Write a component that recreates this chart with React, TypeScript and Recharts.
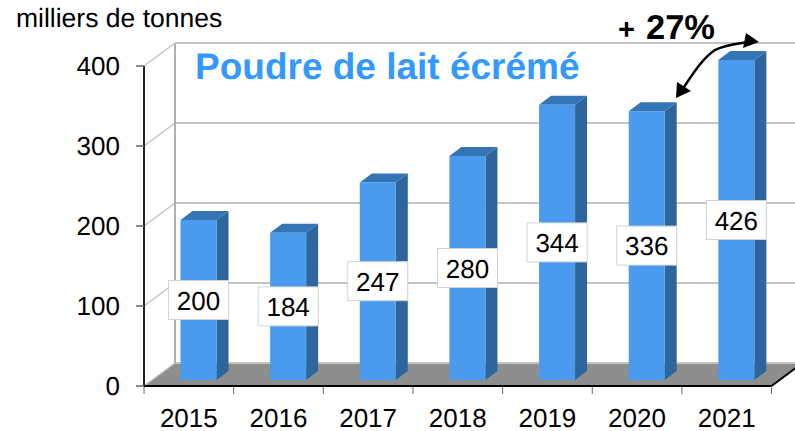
import React from "react";
import { BarChart, Bar, XAxis, YAxis, CartesianGrid, LabelList } from "recharts";

const years = ["2015", "2016", "2017", "2018", "2019", "2020", "2021"];
const values = [200, 184, 247, 280, 344, 336, 426];
const yTicks = [0, 100, 200, 300, 400];
const axisMax = 400;

const data = years.map((year, i) => ({ year, value: values[i] }));

const FONT = "'Liberation Sans', Arial, sans-serif";
// wall depth of the 3D box, and the shift/depth of a bar inside it
const WALL_DX = 31;
const WALL_DY = -23;
const BAR_DX = 9.5;
const BAR_DY = -6;
const BAR_DEPTH_X = 12;
const BAR_DEPTH_Y = -9;

const Bar3D = (props: any) => {
  const x = props.x + BAR_DX;
  const y = props.y + BAR_DY;
  const w = props.width;
  const h = props.height;
  return (
    <g>
      <polygon
        points={`${x + w},${y} ${x + w + BAR_DEPTH_X},${y + BAR_DEPTH_Y} ${x + w + BAR_DEPTH_X},${y + h + BAR_DEPTH_Y} ${x + w},${y + h}`}
        fill="#2E659C"
      />
      <polygon
        points={`${x},${y} ${x + BAR_DEPTH_X},${y + BAR_DEPTH_Y} ${x + w + BAR_DEPTH_X},${y + BAR_DEPTH_Y} ${x + w},${y}`}
        fill="#3675B5"
      />
      <rect x={x} y={y} width={w} height={h} fill="#4A9BEE" />
    </g>
  );
};

const ValueBox = (props: any) => {
  const cx = props.x + BAR_DX + props.width / 2;
  const cy = props.y + BAR_DY + props.height / 2;
  return (
    <g>
      <rect x={cx - 30} y={cy - 19.5} width={60} height={39} fill="#fff" stroke="#d0d4d8" strokeWidth={1} />
      <text x={cx} y={cy + 9.5} textAnchor="middle" fontFamily={FONT} fontSize={26} fill="#000">
        {props.value}
      </text>
    </g>
  );
};

const WallLine = (props: any) => {
  const { x1, x2, y1, index } = props;
  const isTop = y1 < 70;
  const isBottom = y1 > 380;
  const bx = x1 + WALL_DX;
  const by = y1 + WALL_DY;
  return (
    <g key={index}>
      {isBottom && (
        <>
          <polygon
            points={`${x1},${y1} ${bx},${by} ${x2 + WALL_DX},${by} ${x2},${y1}`}
            fill="#8E8E8E"
          />
          <line x1={x2} y1={y1} x2={x2 + WALL_DX} y2={by} stroke="#000" strokeWidth={2} />
        </>
      )}
      {isTop && <line x1={bx} y1={by} x2={bx} y2={by + 320} stroke="#aeaeae" strokeWidth={2} />}
      <line x1={x1} y1={y1} x2={bx} y2={by} stroke="#c4c4c4" strokeWidth={1.5} />
      <line x1={bx} y1={by} x2={x2 + WALL_DX} y2={by} stroke="#c4c4c4" strokeWidth={2} />
    </g>
  );
};

const YearTick = (props: any) => {
  const { x, y, payload, index } = props;
  const half = 627 / years.length / 2;
  return (
    <g>
      <line x1={x - half} y1={y - 1} x2={x - half} y2={y + 6} stroke="#666" strokeWidth={1} />
      {index === years.length - 1 && (
        <line x1={x + half} y1={y - 1} x2={x + half} y2={y + 6} stroke="#666" strokeWidth={1} />
      )}
      <text x={x} y={426.5} textAnchor="middle" fontFamily={FONT} fontSize={26} fill="#000">
        {payload.value}
      </text>
    </g>
  );
};

export default function App() {
  return (
    <div
      style={{
        position: "absolute",
        left: 0,
        top: 0,
        width: 795,
        height: 431,
        background: "#fff",
        textRendering: "geometricPrecision",
      }}
    >
      <BarChart
        width={795}
        height={431}
        data={data}
        barSize={36}
        margin={{ top: 66, right: 23.5, bottom: 4, left: 84 }}
      >
        <CartesianGrid vertical={false} horizontal={WallLine} />
        <XAxis
          dataKey="year"
          height={41}
          interval={0}
          tickSize={0}
          tickLine={false}
          axisLine={{ stroke: "#000", strokeWidth: 2 }}
          tick={YearTick}
        />
        <YAxis
          type="number"
          domain={[0, axisMax]}
          ticks={yTicks}
          width={60}
          tickSize={8}
          tickMargin={16}
          axisLine={{ stroke: "#222", strokeWidth: 2 }}
          tickLine={{ stroke: "#666", strokeWidth: 1.5 }}
          tick={{ fill: "#000", fontFamily: FONT, fontSize: 26 }}
        />
        <Bar
          dataKey={(d: any) => Math.min(d.value, axisMax)}
          shape={Bar3D}
          isAnimationActive={false}
        >
          <LabelList dataKey="value" content={ValueBox} />
        </Bar>
        <text x={16} y={27} fontFamily={FONT} fontSize={26.5} fill="#000">
          milliers de tonnes
        </text>
        <text x={195} y={78.5} fontFamily={FONT} fontSize={37} fontWeight="bold" fill="#3399FF">
          Poudre de lait écrémé
        </text>
        <text x={618} y={39} fontFamily={FONT} fontWeight="bold" fontSize={29} fill="#000">
          +
        </text>
        <text x={646} y={39} fontFamily={FONT} fontWeight="bold" fontSize={34.5} fill="#000">
          27%
        </text>
        <path d="M684,87 C694,72 703,58 715,50 C725,45 735,44 748,42" fill="none" stroke="#000" strokeWidth={2.5} />
        <polygon points="676,98 677,82 691,91" fill="#000" />
        <polygon points="759,42 746,33 743,48" fill="#000" />
      </BarChart>
    </div>
  );
}
